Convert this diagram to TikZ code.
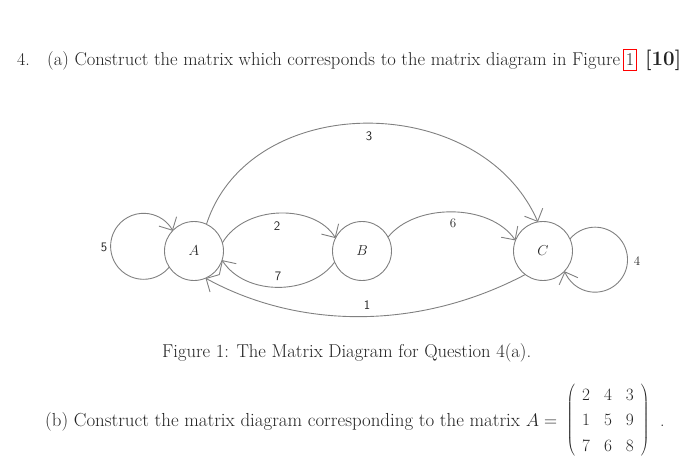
\documentclass[tikz,border=0pt]{standalone}
\usepackage{graphicx}
\usetikzlibrary{arrows.meta}
\definecolor{edgegray}{RGB}{128,128,128}
\definecolor{txt}{RGB}{35,35,35}
\begin{document}
\begin{tikzpicture}[x=1pt,y=1pt,
  state/.style={circle,draw=edgegray,line width=0.9pt,minimum size=59pt,inner sep=0pt,outer sep=0pt,text=txt,font=\fontsize{14}{16}\selectfont},
  conn/.style={draw=edgegray,line width=0.9pt,-{Straight Barb[length=10pt,width=20pt,line width=0.9pt]}},
  elab/.style={font=\fontsize{13}{15}\selectfont\sffamily,text=txt,inner sep=0pt},
  elabr/.style={font=\fontsize{13}{15}\selectfont,text=txt,inner sep=0pt},
  txtnode/.style={inner sep=0pt,text=txt,font=\fontsize{18}{22}\selectfont},
]
\useasboundingbox (0,0) rectangle (700,-470);
% heading
\node[txtnode,anchor=base west] (num) at (17,-66) {4.};
\node[txtnode,anchor=base west] (ta) at (47,-66) {\resizebox{573pt}{!}{(a) Construct the matrix which corresponds to the matrix diagram in Figure}};
\node[txtnode,draw=red,line width=0.6pt,minimum width=13pt,minimum height=21pt] (ref) at (630,-60) {1};
\node[txtnode,anchor=base west] (marks) at (645,-66) {\resizebox{36pt}{!}{\textbf{[10]}}};
% states
\node[state] (A) at (194,-251) {$A$};
\node[state] (B) at (362,-251) {$B$};
\node[state] (C) at (543,-251) {$C$};
% connectors
\draw[conn] (A.16) .. controls (245,-204) and (315,-204) .. (B.154);
\draw[conn] (B.202) .. controls (310,-296) and (245,-296) .. (A.342);
\draw[conn] (B.28) .. controls (415,-203) and (490,-203) .. (C.159);
\draw[conn] (A.65) .. controls (250,-90) and (480,-90) .. (C.100);
\draw[conn] (C.233) .. controls (420,-330) and (300,-330) .. (A.293);
\draw[conn] (A.213) arc[start angle=-39, end angle=-332, radius=33];
\draw[conn] (C.24) arc[start angle=140.5, end angle=-159, radius=32.5];
% labels
\node[elab] (l5) at (104,-247) {5};
\node[elab] (l2) at (277,-226) {2};
\node[elab] (l7) at (278,-276) {7};
\node[elabr] (l6) at (453,-223) {6};
\node[elab] (l3) at (369,-136) {3};
\node[elab] (l1) at (367,-305) {1};
\node[elabr] (l4) at (637,-261) {4};
% caption
\node[txtnode,anchor=base west] (cap) at (162,-357) {\resizebox{369pt}{!}{Figure 1: The Matrix Diagram for Question 4(a).}};
% part b
\node[txtnode,anchor=base west] (pb) at (45,-426) {\resizebox{512pt}{!}{(b) Construct the matrix diagram corresponding to the matrix $A=$}};
\node[txtnode] (mat) at (608,-420.5) {\renewcommand{\arraystretch}{1.16}\setlength{\arraycolsep}{7pt}$\left(\begin{array}{ccc}2&4&3\\1&5&9\\7&6&8\end{array}\right)$};
\node[txtnode,anchor=base west] (dot) at (660,-426) {.};
\end{tikzpicture}
\end{document}
